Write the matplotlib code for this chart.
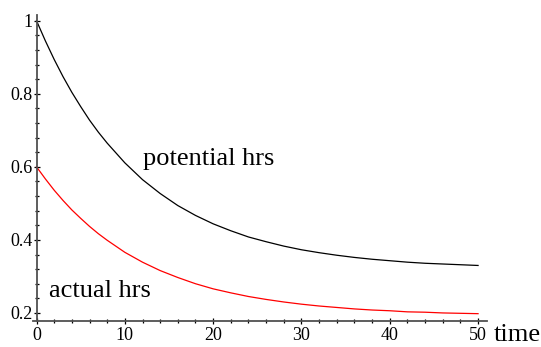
import matplotlib
matplotlib.use("Agg")
import matplotlib.pyplot as plt
from matplotlib.ticker import MultipleLocator

plt.rcParams['font.family'] = ['Liberation Serif', 'DejaVu Serif']

# time samples and the two decay curves
time = [0, 1, 2, 3, 4, 5, 6, 7, 8, 10, 12, 14, 16, 18, 20, 22, 24, 26,
        28, 30, 32, 34, 36, 38, 40, 42, 44, 46, 48, 50]
potential_hrs = [1.000, 0.945, 0.894, 0.847, 0.804, 0.765, 0.728, 0.695,
                 0.665, 0.611, 0.565, 0.527, 0.494, 0.467, 0.444, 0.425,
                 0.408, 0.395, 0.383, 0.373, 0.365, 0.358, 0.352, 0.347,
                 0.343, 0.339, 0.336, 0.334, 0.332, 0.330]
actual_hrs = [0.600, 0.567, 0.536, 0.508, 0.482, 0.459, 0.437, 0.417,
              0.399, 0.366, 0.339, 0.316, 0.297, 0.280, 0.266, 0.255,
              0.245, 0.237, 0.230, 0.224, 0.219, 0.215, 0.211, 0.208,
              0.206, 0.203, 0.202, 0.200, 0.199, 0.198]

x_ticks = [0, 10, 20, 30, 40, 50]
x_tick_labels = ["0", "10", "20", "30", "40", "50"]
y_ticks = [0.2, 0.4, 0.6, 0.8, 1.0]
y_tick_labels = ["0.2", "0.4", "0.6", "0.8", "1"]

fig = plt.figure(figsize=(5.41, 3.47), dpi=100)
ax = fig.add_axes([0.061, 0.075, 0.839, 0.882])

ax.plot(time, potential_hrs, color="black", lw=0.9)
ax.plot(time, actual_hrs, color="#ff0000", lw=0.9)

ax.set_xlim(-0.4, 51)
ax.set_ylim(0.178, 1.016)

for side in ("top", "right"):
    ax.spines[side].set_visible(False)
ax.spines["left"].set_position(("data", 0))
for side in ("left", "bottom"):
    ax.spines[side].set_color("#505050")
    ax.spines[side].set_linewidth(1.3)

ax.set_xticks(x_ticks)
ax.set_xticklabels(x_tick_labels)
ax.set_yticks(y_ticks)
ax.set_yticklabels(y_tick_labels)
ax.xaxis.set_minor_locator(MultipleLocator(2))
ax.yaxis.set_minor_locator(MultipleLocator(0.04))

ax.tick_params(which="major", direction="inout", length=5, width=0.9,
               labelsize=13, color="black")
ax.tick_params(which="minor", direction="inout", length=3, width=0.9,
               color="black")
ax.tick_params(axis="y", which="major", pad=0.5)
ax.tick_params(axis="x", which="major", pad=2)

ax.text(12.06, 0.6055, "potential hrs", fontsize=19, va="baseline", ha="left")
ax.text(1.42, 0.2447, "actual hrs", fontsize=19, va="baseline", ha="left")
ax.text(51.8, 0.124, "time", fontsize=19, va="baseline", ha="left",
        clip_on=False)

fig.savefig("out.png", dpi=100)
